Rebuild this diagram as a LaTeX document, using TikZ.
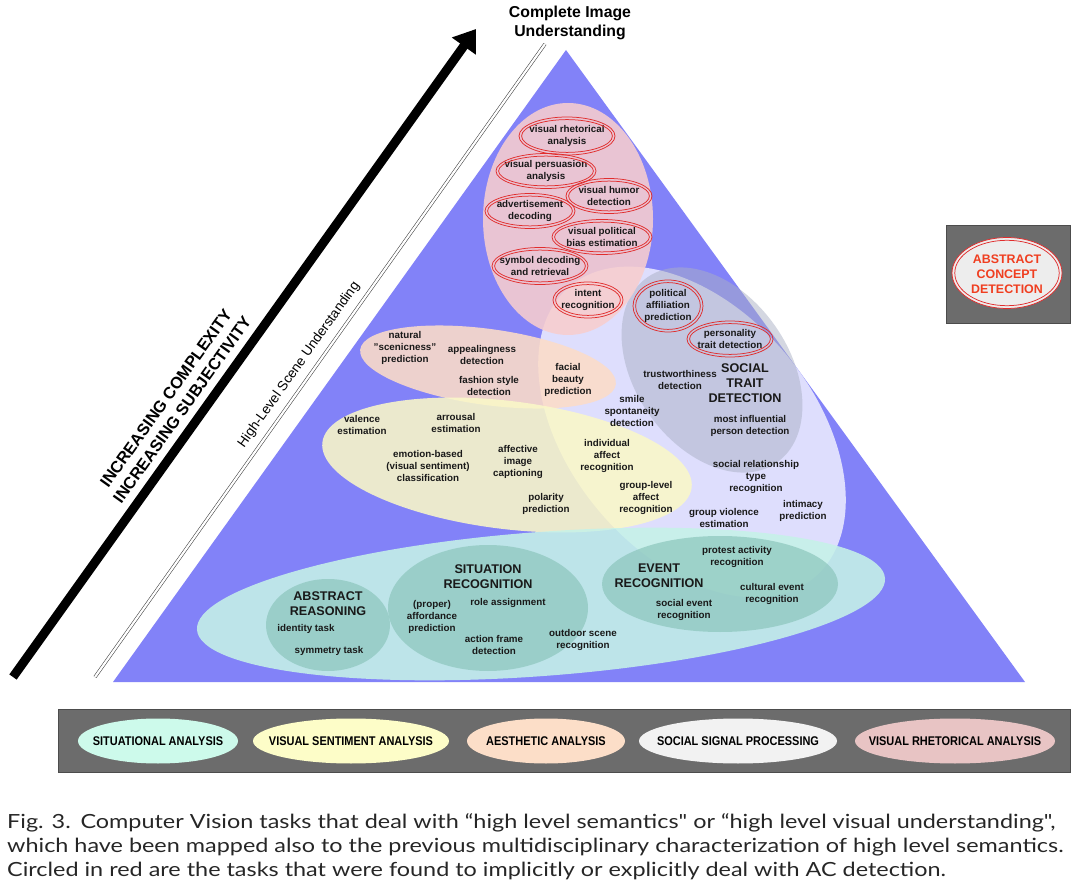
\documentclass[tikz,border=0pt]{standalone}
\usepackage{fontspec}
\setmainfont{Liberation Sans}
\newfontfamily\capfont[FakeStretch=1.2]{Lato}
\newfontfamily\legfont[FakeStretch=0.87]{Liberation Sans}
\usetikzlibrary{arrows.meta}
\definecolor{tri}{RGB}{130,130,248}
\definecolor{redreg}{RGB}{248,206,206}
\definecolor{peachreg}{RGB}{252,220,200}
\definecolor{yelreg}{RGB}{250,248,200}
\definecolor{cyanreg}{RGB}{198,242,232}
\definecolor{tealreg}{RGB}{140,198,188}
\definecolor{soctrait}{RGB}{170,176,196}
\definecolor{ringred}{RGB}{225,45,45}
\definecolor{acdred}{RGB}{240,62,32}
\definecolor{boxgray}{RGB}{108,108,108}
\definecolor{lmint}{RGB}{205,250,235}
\definecolor{lyellow}{RGB}{253,253,200}
\definecolor{lpeach}{RGB}{252,222,200}
\definecolor{lwhite}{RGB}{242,242,242}
\definecolor{lrose}{RGB}{232,196,196}
\definecolor{txt}{RGB}{25,25,25}
\tikzset{
  lbl/.style={align=center, inner sep=0pt, text=txt, font=\fontsize{9.8}{12.4}\selectfont\bfseries},
  big/.style={align=center, inner sep=0pt, text=txt, font=\fontsize{12.6}{15.2}\selectfont\bfseries},
  legtxt/.style={inner sep=0pt, text=black, font=\legfont\fontsize{12.6}{14}\selectfont\bfseries},
  ring/.style={draw=ringred, line width=0.75pt},
  region/.style={fill opacity=0.88},
  capline/.style={anchor=west, inner sep=0pt, text=black!85, font=\capfont\fontsize{19.5}{23}\selectfont},
  panel/.style={fill=boxgray, draw=black!70, line width=0.6pt}
}
\begin{document}
\begin{tikzpicture}[x=1pt,y=-1pt]
\useasboundingbox (0,0) rectangle (1080,893);

% pyramid
\fill[tri] (566,50) -- (1025,682) -- (113,682) -- cycle;
\fill[white, fill opacity=0.74, rotate around={-50:(692,432)}] (692,432) ellipse [x radius=190, y radius=122];
\fill[soctrait, fill opacity=0.5, rotate around={-55:(712,370)}] (712,370) ellipse [x radius=113, y radius=77];
\fill[redreg, region] (568,219) ellipse [x radius=85, y radius=116];
\fill[peachreg, region, rotate around={-7.8:(488,367)}] (488,367) ellipse [x radius=129, y radius=38];
\fill[yelreg, region, rotate around={-7:(507,465)}] (507,465) ellipse [x radius=186, y radius=64];
\fill[cyanreg, region, rotate around={4.3:(541,604)}] (541,604) ellipse [x radius=345, y radius=72];
\fill[tealreg, fill opacity=0.7] (328,625) ellipse [x radius=62, y radius=46];
\fill[tealreg, fill opacity=0.7] (488,608) ellipse [x radius=100, y radius=63];
\fill[tealreg, fill opacity=0.7] (720,584) ellipse [x radius=118, y radius=48];

% arrow and double line
\coordinate (atail) at (13,677);
\coordinate (ahead) at (476,29);
\draw[line width=9pt, -{Triangle[length=21pt,width=28pt]}] (atail) -- (ahead);
\coordinate (dl1) at (95,677);
\coordinate (dl2) at (545,44);
\draw[black!75, line width=0.55pt, double, double distance=2.2pt] (dl1) -- (dl2);

\node[inner sep=0pt, align=center, font=\fontsize{15.8}{19}\selectfont\bfseries] (title) at (570,22.5) {Complete Image\\Understanding};
\node[inner sep=0pt, align=center, rotate=54.5, font=\fontsize{16.4}{20}\selectfont\bfseries] (incr) at (174,404) {INCREASING COMPLEXITY\\INCREASING SUBJECTIVITY};
\node[inner sep=0pt, rotate=54.6, font=\fontsize{13.6}{16}\selectfont] (hlsu) at (299,365) {High-Level Scene Understanding};

% visual rhetorical tasks (circled)
\node[lbl] (vr) at (567,136) {visual rhetorical\\analysis};
\draw[ring] (vr.center) ellipse [x radius=48, y radius=19] (vr.center) ellipse [x radius=45.4, y radius=16.4];
\node[lbl] (vp) at (546,171) {visual persuasion\\analysis};
\draw[ring] (vp.center) ellipse [x radius=50, y radius=17.5] (vp.center) ellipse [x radius=47.4, y radius=14.9];
\node[lbl] (vh) at (609,196) {visual humor\\detection};
\draw[ring] (vh.center) ellipse [x radius=43, y radius=17.5] (vh.center) ellipse [x radius=40.4, y radius=14.9];
\node[lbl] (ad) at (530,211) {advertisement\\decoding};
\draw[ring] (ad.center) ellipse [x radius=45, y radius=17.5] (ad.center) ellipse [x radius=42.4, y radius=14.9];
\node[lbl] (vpb) at (602,237) {visual political\\bias estimation};
\draw[ring] (vpb.center) ellipse [x radius=50, y radius=17.5] (vpb.center) ellipse [x radius=47.4, y radius=14.9];
\node[lbl] (sd) at (540,266) {symbol decoding\\and retrieval};
\draw[ring] (sd.center) ellipse [x radius=48, y radius=18.5] (sd.center) ellipse [x radius=45.4, y radius=15.9];
\node[lbl] (ir) at (588,300) {intent\\recognition};
\draw[ring] (ir.center) ellipse [x radius=35, y radius=18] (ir.center) ellipse [x radius=32.4, y radius=15.4];
\node[lbl] (pa) at (668,306) {political\\affiliation\\prediction};
\draw[ring] (pa.center) ellipse [x radius=35, y radius=26] (pa.center) ellipse [x radius=32.4, y radius=23.4];
\node[lbl] (pt) at (730,339) {personality\\trait detection};
\draw[ring] (pt.center) ellipse [x radius=43, y radius=18] (pt.center) ellipse [x radius=40.4, y radius=15.4];

% social signal processing
\node[lbl] (tw) at (680,380) {trustworthiness\\detection};
\node[big] (std) at (745,383) {SOCIAL\\TRAIT\\DETECTION};
\node[lbl] (ss) at (632,411) {smile\\spontaneity\\detection};
\node[lbl] (mi) at (750,426) {most influential\\person detection};
\node[lbl] (srt) at (756,477) {social relationship\\type\\recognition};
\node[lbl] (ip) at (803,511) {intimacy\\prediction};
\node[lbl] (gv) at (724,518) {group violence\\estimation};

% aesthetic
\node[lbl] (ns) at (405,348) {natural\\"scenicness"\\prediction};
\node[lbl] (ap) at (482,355) {appealingness\\detection};
\node[lbl] (fs) at (489,386) {fashion style\\detection};
\node[lbl] (fb) at (568,380) {facial\\beauty\\prediction};

% visual sentiment
\node[lbl] (ve) at (362,425) {valence\\estimation};
\node[lbl] (ae) at (456,423) {arrousal\\estimation};
\node[lbl] (eb) at (428,466) {emotion-based\\(visual sentiment)\\classification};
\node[lbl] (aic) at (518,462) {affective\\image\\captioning};
\node[lbl] (pp) at (546,504) {polarity\\prediction};
\node[lbl] (iar) at (607,456) {individual\\affect\\recognition};
\node[lbl] (gar) at (646,498) {group-level\\affect\\recognition};

% situational
\node[lbl] (pr) at (737,557) {protest activity\\recognition};
\node[big] (er) at (659,576) {EVENT\\RECOGNITION};
\node[lbl] (se) at (684,610) {social event\\recognition};
\node[lbl] (ce) at (772,594) {cultural event\\recognition};
\node[lbl] (os) at (583,640) {outdoor scene\\recognition};
\node[big] (sr) at (488,577) {SITUATION\\RECOGNITION};
\node[lbl] (pap) at (432,617) {(proper)\\affordance\\prediction};
\node[lbl] (ra) at (508,603) {role assignment};
\node[lbl] (af) at (494,645) {action frame\\detection};
\node[big] (ar) at (328,604) {ABSTRACT\\REASONING};
\node[lbl] (it) at (306,629) {identity task};
\node[lbl] (st) at (329,651) {symmetry task};

% abstract concept detection box
\draw[panel] (946,225) rectangle (1070,323);
\fill[black!7] (1007,273) ellipse [x radius=55, y radius=35.5];
\draw[ring] (1007,273) ellipse [x radius=55, y radius=35.5] (1007,273) ellipse [x radius=52.2, y radius=32.7];
\node[inner sep=0pt, align=center, text=acdred, font=\fontsize{12.4}{15}\selectfont\bfseries] (acd) at (1007,274) {ABSTRACT\\CONCEPT\\DETECTION};

% legend
\draw[panel] (58,709) rectangle (1070,772);
\fill[lmint] (158,741) ellipse [x radius=80, y radius=22.5];
\fill[lyellow] (351,741) ellipse [x radius=98, y radius=22.5];
\fill[lpeach] (546,741) ellipse [x radius=79, y radius=22.5];
\fill[lwhite] (738,741) ellipse [x radius=99, y radius=22.5];
\fill[lrose] (955,741) ellipse [x radius=100, y radius=22.5];
\node[legtxt] (l1) at (158,741) {SITUATIONAL ANALYSIS};
\node[legtxt] (l2) at (351,741) {VISUAL SENTIMENT ANALYSIS};
\node[legtxt] (l3) at (546,741) {AESTHETIC ANALYSIS};
\node[legtxt] (l4) at (738,741) {SOCIAL SIGNAL PROCESSING};
\node[legtxt] (l5) at (955,741) {VISUAL RHETORICAL ANALYSIS};

% caption
\node[capline] (c1) at (7,823) {Fig. 3.\enspace Computer Vision tasks that deal with “high level semantics" or “high level visual understanding",};
\node[capline] (c2) at (7,847) {which have been mapped also to the previous multidisciplinary characterization of high level semantics.};
\node[capline] (c3) at (7,871) {Circled in red are the tasks that were found to implicitly or explicitly deal with AC detection.};
\end{tikzpicture}
\end{document}
